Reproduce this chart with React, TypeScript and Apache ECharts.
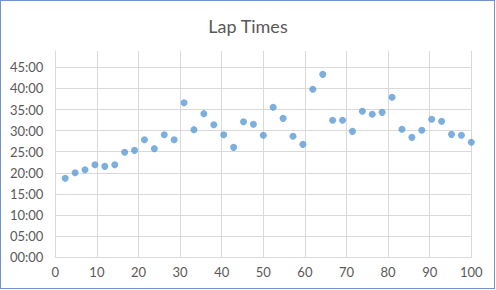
import React, { useEffect, useRef } from "react";
import * as echarts from "echarts";

const titleText = "Lap Times";

const xValues: number[] = [
  2.38, 4.76, 7.14, 9.52, 11.9, 14.29, 16.67, 19.05, 21.43, 23.81, 26.19, 28.57,
  30.95, 33.33, 35.71, 38.1, 40.48, 42.86, 45.24, 47.62, 50.0, 52.38, 54.76, 57.14,
  59.52, 61.9, 64.29, 66.67, 69.05, 71.43, 73.81, 76.19, 78.57, 80.95, 83.33, 85.71,
  88.1, 90.48, 92.86, 95.24, 97.62, 100.0,
];

// lap time in minutes
const lapMinutes: number[] = [
  18.7, 20.04, 20.75, 21.94, 21.54, 21.94, 24.86, 25.33, 27.86, 25.73, 29.04, 27.86,
  36.62, 30.23, 34.02, 31.41, 29.04, 26.04, 32.12, 31.49, 28.89, 35.52, 32.91, 28.65,
  26.75, 39.78, 43.33, 32.44, 32.44, 29.83, 34.57, 33.86, 34.33, 37.89, 30.31, 28.41,
  30.07, 32.68, 32.2, 29.12, 28.89, 27.23,
];

const xMin = 0;
const xMax = 100;
const xStep = 10;
const yMin = 0;
const yMax = 48.86;
const yStep = 5;

const pad = (n: number) => (n < 10 ? "0" + n : "" + n);

export default function App() {
  const ref = useRef<HTMLDivElement>(null);

  useEffect(() => {
    if (!ref.current) return;
    const chart = echarts.init(ref.current, undefined, { renderer: "svg" });
    const textColor = "#595959";
    const font = "Lato, 'Open Sans', sans-serif";
    chart.setOption({
      animation: false,
      backgroundColor: "#ffffff",
      title: {
        text: titleText,
        left: "center",
        top: 12,
        textStyle: {
          color: textColor,
          fontSize: 18,
          fontWeight: "normal",
          fontFamily: font,
        },
      },
      grid: {
        left: 55.3,
        right: 24.7,
        top: 51,
        bottom: 32.7,
        containLabel: false,
      },
      xAxis: {
        type: "value",
        min: xMin,
        max: xMax,
        interval: xStep,
        axisLine: { show: true, lineStyle: { color: "#d9d9d9", width: 1 } },
        axisTick: { show: false },
        axisLabel: {
          color: textColor,
          fontSize: 13,
          fontFamily: font,
          margin: 8,
        },
        splitLine: { show: true, lineStyle: { color: "#d9d9d9", width: 1 } },
      },
      yAxis: {
        type: "value",
        min: yMin,
        max: yMax,
        interval: yStep,
        axisLine: { show: true, lineStyle: { color: "#d9d9d9", width: 1 } },
        axisTick: { show: false },
        axisLabel: {
          color: textColor,
          fontSize: 13,
          fontFamily: font,
          margin: 12,
          showMaxLabel: false,
          formatter: (v: number) => {
            const r = Math.round(v);
            if (Math.abs(v - r) > 1e-6 || r % 5 !== 0) return "";
            return pad(r) + ":00";
          },
        },
        splitLine: {
          show: true,
          showMaxLine: false,
          lineStyle: { color: "#d9d9d9", width: 1 },
        },
      },
      series: [
        {
          type: "scatter",
          data: xValues.map((x, i) => [x, lapMinutes[i]]),
          symbol: "circle",
          symbolSize: 7,
          itemStyle: { color: "#5b9bd5" },
        },
      ],
    });
    return () => chart.dispose();
  }, []);

  return (
    <div style={{ position: "fixed", left: 0, top: 0, width: 496, height: 290, background: "#fff" }}>
      <div ref={ref} style={{ position: "absolute", left: 0, top: 0, width: 496, height: 290 }} />
      <div
        style={{
          position: "absolute",
          left: 0,
          top: 0,
          width: 495,
          height: 289,
          boxSizing: "border-box",
          border: "1px solid #7094c8",
          pointerEvents: "none",
        }}
      />
    </div>
  );
}
